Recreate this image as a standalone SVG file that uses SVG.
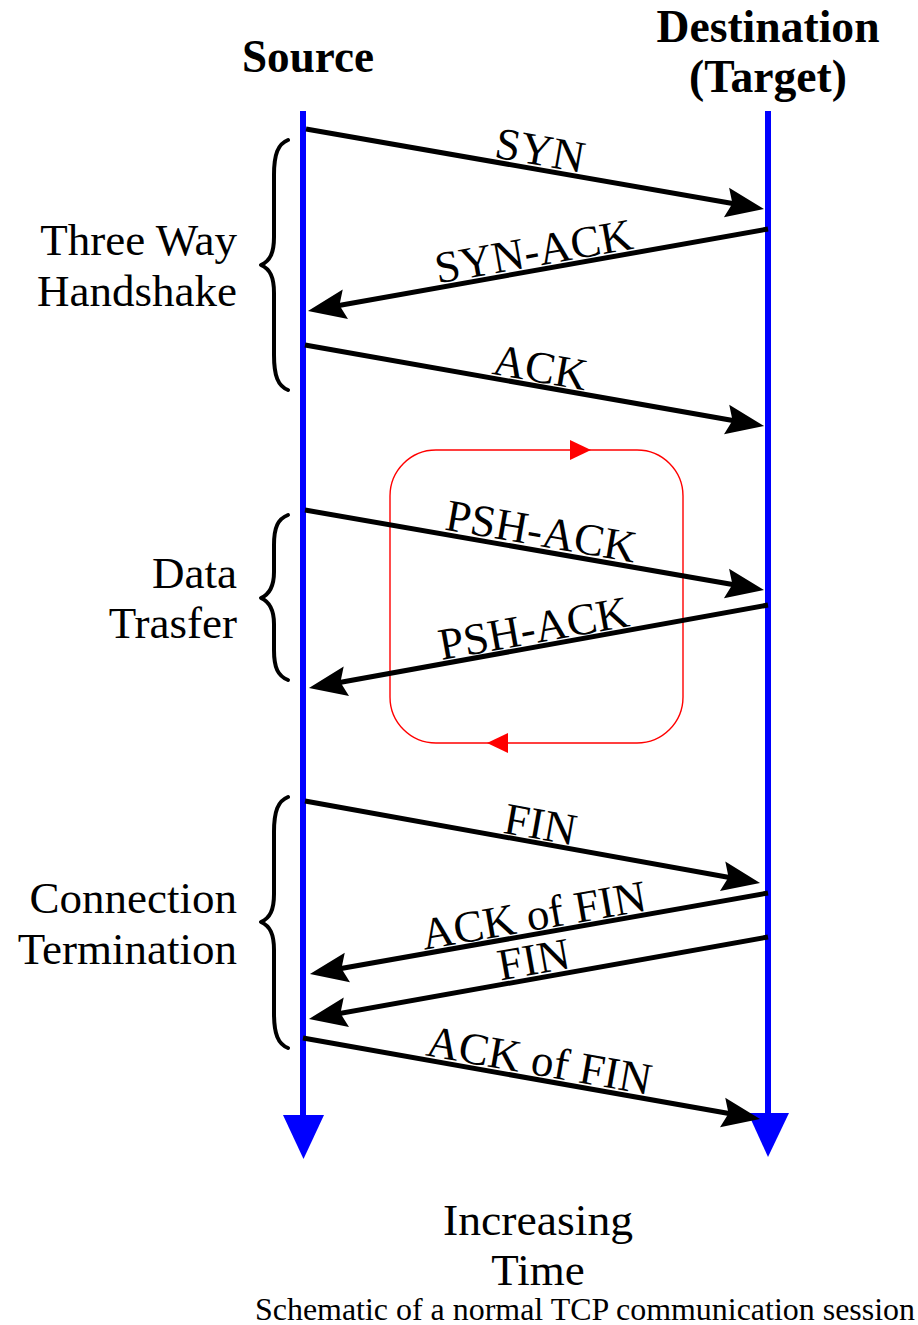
<svg xmlns="http://www.w3.org/2000/svg" width="918" height="1325" viewBox="0 0 918 1325">
<style>
text{font-family:"Times New Roman",Times,"Liberation Serif","DejaVu Serif",serif;fill:#000}
.head{font-size:46px;font-weight:bold}
.side{font-size:45px;text-anchor:end}
.lbl{font-size:45px;text-anchor:middle}
.life{stroke:#0000ff;stroke-width:6;fill:none}
.msg{stroke:#000;stroke-width:5;fill:none;marker-end:url(#ah)}
.brace{stroke:#000;stroke-width:4;fill:none;stroke-linecap:round;stroke-linejoin:round}
.loop{stroke:#ff0000;stroke-width:1.4;fill:none}
</style>
<defs>
<marker id="ah" markerUnits="userSpaceOnUse" markerWidth="38" markerHeight="30" refX="28" refY="15" orient="auto" overflow="visible">
<path d="M0,0 L38,15 L0,30 L6,15 z" fill="#000"/>
</marker>
</defs>
<rect width="918" height="1325" fill="#fff"/>

<g id="source">
<text class="head" x="308" y="72" text-anchor="middle" textLength="132" lengthAdjust="spacingAndGlyphs">Source</text>
<line class="life" x1="303" y1="111" x2="303" y2="1118"/>
<polygon points="283,1115 324,1115 303.5,1159" fill="#0000ff"/>
</g>
<g id="destination">
<text class="head" x="768" y="42" text-anchor="middle" textLength="223" lengthAdjust="spacingAndGlyphs">Destination</text>
<text class="head" x="768" y="92" text-anchor="middle" textLength="158" lengthAdjust="spacingAndGlyphs">(Target)</text>
<line class="life" x1="768" y1="111" x2="768" y2="1116"/>
<polygon points="748,1113 789,1113 768,1157" fill="#0000ff"/>
</g>

<g id="handshake">
<text class="side" x="237" y="255">Three Way</text>
<text class="side" x="237" y="306">Handshake</text>
<path class="brace" d="M288,140 C278,144 274,154 274,175 L274,237 C274,253 270,261 261,265 C270,269 274,277 274,293 L274,355 C274,376 278,386 288,390"/>
</g>
<g id="data-transfer">
<text class="side" x="237" y="588">Data</text>
<text class="side" x="237" y="638">Trasfer</text>
<path class="brace" d="M288,515 C278,519 274,527 274,545 L274,572 C274,586 270,594 261,598 C270,602 274,610 274,624 L274,650 C274,668 278,676 288,680"/>
</g>
<g id="termination">
<text class="side" x="237" y="913">Connection</text>
<text class="side" x="237" y="964">Termination</text>
<path class="brace" d="M288,797 C278,801 274,811 274,832 L274,894 C274,910 270,918 261,922 C270,926 274,934 274,950 L274,1013 C274,1034 278,1044 288,1048"/>
</g>

<g id="loop">
<rect class="loop" x="390" y="450" width="293" height="293" rx="46" ry="46"/>
<polygon points="570,440 570,460 591,450" fill="#ff0000"/>
<polygon points="508,733 508,753 487,743" fill="#ff0000"/>
</g>

<g id="connectors">
<line class="msg" x1="306" y1="129" x2="754.1" y2="207.3"/>
<line class="msg" x1="768" y1="229" x2="317.8" y2="309.2"/>
<line class="msg" x1="305" y1="345" x2="754.2" y2="424.3"/>
<line class="msg" x1="305" y1="510" x2="754.1" y2="588.3"/>
<line class="msg" x1="768" y1="605" x2="318.8" y2="686.2"/>
<line class="msg" x1="305" y1="801" x2="750.2" y2="881.2"/>
<line class="msg" x1="768" y1="893" x2="319.8" y2="972.3"/>
<line class="msg" x1="768" y1="937" x2="318.8" y2="1017.2"/>
<line class="msg" x1="303" y1="1038" x2="750.2" y2="1117.3"/>
</g>

<g id="labels">
<text class="lbl" transform="translate(537,169) rotate(9.9)" y="-4">SYN</text>
<text class="lbl" transform="translate(537,270) rotate(-10.1)" y="-4">SYN-ACK</text>
<text class="lbl" transform="translate(537,386) rotate(10)" y="-4">ACK</text>
<text class="lbl" transform="translate(538,550) rotate(9.9)" y="-4">PSH-ACK</text>
<text class="lbl" transform="translate(537,647) rotate(-10.2)" y="-4">PSH-ACK</text>
<text class="lbl" transform="translate(537,843) rotate(10.2)" y="-4">FIN</text>
<text class="lbl" transform="translate(537,934) rotate(-10)" y="-4">ACK of FIN</text>
<text class="lbl" transform="translate(537,978) rotate(-10.1)" y="-4">FIN</text>
<text class="lbl" transform="translate(536,1079) rotate(10)" y="-4">ACK of FIN</text>
</g>

<g id="time">
<text x="538" y="1235" font-size="45" text-anchor="middle" textLength="190" lengthAdjust="spacingAndGlyphs">Increasing</text>
<text x="538" y="1285" font-size="45" text-anchor="middle">Time</text>
</g>
<text x="255" y="1320" font-size="32" textLength="660" lengthAdjust="spacingAndGlyphs">Schematic of a normal TCP communication session</text>
</svg>
